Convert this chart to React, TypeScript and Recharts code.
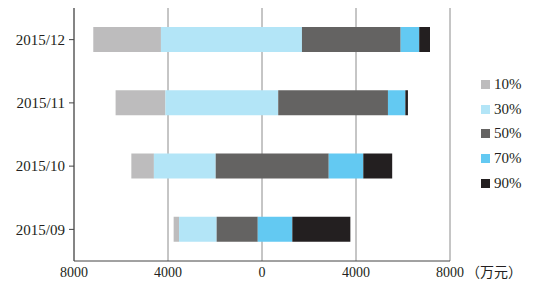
import { BarChart, Bar, XAxis, YAxis, CartesianGrid, Legend } from "recharts";

// 月份（由下至上）
const months = ["2015/09", "2015/10", "2015/11", "2015/12"];
// 各分位区间的边界值（万元）
const edgeLow = [-3760, -5560, -6230, -7180];
const edge10 = [-3530, -4600, -4110, -4300];
const edge30 = [-1930, -1970, 690, 1700];
const edge50 = [-180, 2840, 5360, 5900];
const edge70 = [1290, 4310, 6100, 6690];
const edge90 = [3760, 5540, 6210, 7150];
const xTicks = [-8000, -4000, 0, 4000, 8000];

const series = [
  { key: "p10", name: "10%", color: "#bdbcbd" },
  { key: "p30", name: "30%", color: "#b3e5f7" },
  { key: "p50", name: "50%", color: "#646362" },
  { key: "p70", name: "70%", color: "#63c9f2" },
  { key: "p90", name: "90%", color: "#231f20" },
];

const data = months.map((month, i) => ({
  month,
  p10: [edgeLow[i], edge10[i]],
  p30: [edge10[i], edge30[i]],
  p50: [edge30[i], edge50[i]],
  p70: [edge50[i], edge70[i]],
  p90: [edge70[i], edge90[i]],
}));

const FONT = '"Liberation Serif", "Times New Roman", "Noto Sans CJK SC", serif';
const TEXT = "#231f20";
const AXIS = "#444";

const renderLegend = ({ payload }: any) => (
  <div style={{ fontFamily: FONT, fontSize: 15, color: TEXT }}>
    {(payload || []).map((item: any) => (
      <div
        key={item.value}
        style={{ display: "flex", alignItems: "center", height: 24.7 }}
      >
        <span
          style={{
            display: "inline-block",
            width: 9,
            height: 9,
            background: item.color,
            marginRight: 4,
          }}
        />
        {item.value}
      </div>
    ))}
  </div>
);

export default function App() {
  return (
    <div style={{ position: "absolute", left: 0, top: 0 }}>
      <BarChart
        width={546}
        height={292}
        data={data}
        layout="vertical"
        margin={{ top: 8, right: 96, bottom: 0, left: 0 }}
        barSize={25}
        barGap={-25}
      >
        <CartesianGrid horizontal={false} stroke="#8c8c8c" />
        <XAxis
          type="number"
          domain={[-8000, 8000]}
          ticks={xTicks}
          interval={0}
          tickFormatter={(v: number) => String(Math.abs(v))}
          tickLine={false}
          tickSize={0}
          tickMargin={6}
          height={31}
          axisLine={{ stroke: AXIS }}
          tick={{ fill: TEXT, fontSize: 14, fontFamily: FONT }}
          label={{
            value: "（万元）",
            position: "right",
            offset: 16,
            dy: -4,
            fill: TEXT,
            fontSize: 14,
            fontFamily: FONT,
          }}
        />
        <XAxis
          xAxisId="top"
          orientation="top"
          type="number"
          domain={[-8000, 8000]}
          tick={false}
          tickLine={false}
          height={0}
          axisLine={{ stroke: AXIS }}
        />
        <YAxis
          yAxisId="bands"
          type="number"
          domain={[0, 4]}
          ticks={[1, 2, 3]}
          tick={false}
          axisLine={false}
          tickSize={5}
          tickLine={{ stroke: AXIS }}
          width={0}
        />
        <YAxis
          type="category"
          dataKey="month"
          reversed
          width={74}
          tickSize={5}
          tickMargin={4}
          axisLine={{ stroke: AXIS }}
          tickLine={{ stroke: AXIS }}
          tick={{ fill: TEXT, fontSize: 15, fontFamily: FONT }}
        />
        <YAxis
          yAxisId="right"
          orientation="right"
          type="number"
          domain={[0, 1]}
          tick={false}
          tickLine={false}
          width={0}
          axisLine={{ stroke: AXIS }}
        />
        <Legend
          layout="vertical"
          align="center"
          verticalAlign="middle"
          content={renderLegend}
          wrapperStyle={{ left: 481, top: 72, width: 60 }}
        />
        {series.map((s) => (
          <Bar
            key={s.key}
            dataKey={s.key}
            name={s.name}
            fill={s.color}
            isAnimationActive={false}
          />
        ))}
      </BarChart>
    </div>
  );
}
